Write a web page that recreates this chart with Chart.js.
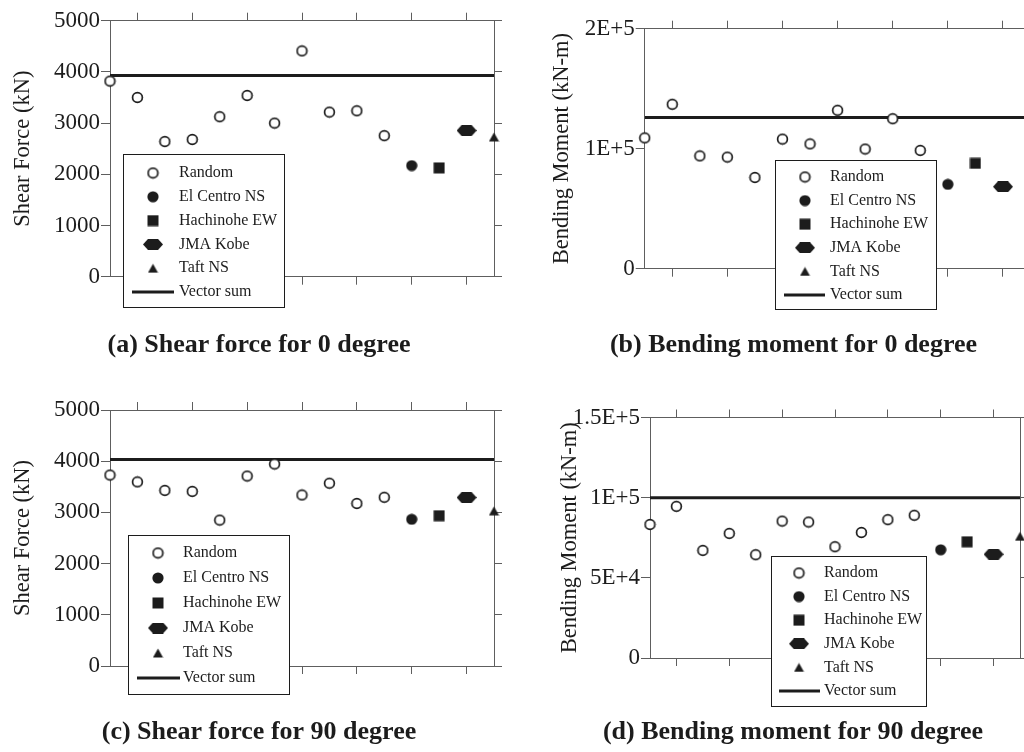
<!DOCTYPE html>
<html>
<head>
<meta charset="utf-8">
<title>Shear force and bending moment</title>
<script src="https://cdn.jsdelivr.net/npm/chart.js@4.4.1/dist/chart.umd.min.js"></script>
<style>
  html, body { margin: 0; padding: 0; background: #fff; }
  #page { position: relative; width: 1024px; height: 752px; overflow: hidden; }
  #page canvas { position: absolute; }
</style>
</head>
<body>
<div id="page">
  <canvas id="chartA"></canvas>
  <canvas id="chartB"></canvas>
  <canvas id="chartC"></canvas>
  <canvas id="chartD"></canvas>
</div>
<script>
// legend / series names
const seriesNames = ['Random', 'El Centro NS', 'Hachinohe EW', 'JMA Kobe', 'Taft NS', 'Vector sum'];
// case slots on the x axis that get a tick mark
const xTickSlots = [1, 3, 5, 7, 9, 11, 13];

// (a) shear force, 0 degree (kN)
const shear0Random = [3820, 3500, 2640, 2680, 3125, 3540, 3000, 4410, 3215, 3240, 2755];
const shear0Records = [2170, 2125, 2855, 2730];
const shear0Vector = 3930;

// (b) bending moment, 0 degree (kN-m)
const moment0Random = [109000, 137000, 94000, 93000, 76000, 108000, 104000, 132000, 99700, 125000, 98600];
const moment0Records = [70300, 87800, 68300, 80000];
const moment0Vector = 126000;

// (c) shear force, 90 degree (kN)
const shear90Random = [3730, 3595, 3430, 3410, 2850, 3710, 3945, 3340, 3570, 3175, 3295];
const shear90Records = [2865, 2935, 3290, 3030];
const shear90Vector = 4035;

// (d) bending moment, 90 degree (kN-m)
const moment90Random = [83300, 94600, 67100, 77700, 64400, 85400, 84800, 69400, 78300, 86300, 89000];
const moment90Records = [67500, 72500, 64700, 75900];
const moment90Vector = 100000;

const SERIF = '"Liberation Serif", "Times New Roman", serif';
const INK = '#1c1c1c';
const AXIS = '#5e5e5e';

function plainLabel(v) { return String(v); }
function sciLabel(v) {
  if (v === 0) return '0';
  const e = Math.floor(Math.log10(v));
  const m = +(v / Math.pow(10, e)).toFixed(2);
  return m + 'E+' + e;
}

// marker images, shared by the points and the legend
function marker(w, h, draw) {
  const c = document.createElement('canvas');
  c.width = w; c.height = h;
  const g = c.getContext('2d');
  g.fillStyle = INK; g.strokeStyle = INK;
  draw(g);
  return c;
}
const markers = [
  marker(13, 13, g => { g.beginPath(); g.arc(6.5, 6.5, 4.9, 0, Math.PI * 2); g.fillStyle = '#fff'; g.fill(); g.lineWidth = 1.7; g.stroke(); }),
  marker(12, 12, g => { g.beginPath(); g.arc(6, 6, 5.6, 0, Math.PI * 2); g.fill(); }),
  marker(12, 12, g => { g.fillRect(0.5, 0.5, 11, 11); }),
  marker(20, 11, g => {
    g.beginPath(); g.moveTo(0, 5.5); g.lineTo(5, 0); g.lineTo(15, 0); g.lineTo(20, 5.5);
    g.lineTo(15, 11); g.lineTo(5, 11); g.closePath(); g.fill();
  }),
  marker(11, 10, g => { g.beginPath(); g.moveTo(5.5, 0.5); g.lineTo(10.5, 9.5); g.lineTo(0.5, 9.5); g.closePath(); g.fill(); })
];

const panels = [
  { id: 'chartA', title: '(a) Shear force for 0 degree', yLabel: 'Shear Force (kN)',
    random: shear0Random, records: shear0Records, vector: shear0Vector,
    yMax: 5000, yStep: 1000, fmt: plainLabel,
    box: [0, 0, 518, 376], area: [110, 20.7, 494, 276.7], titleY: 345, yTitleX: 23,
    legend: { x: 123, y: 154, w: 161, h: 153, mark: 153, text: 179, row: 173, step: 23.8, line: [132, 174] } },
  { id: 'chartB', title: '(b) Bending moment for 0 degree', yLabel: 'Bending Moment (kN-m)',
    random: moment0Random, records: moment0Records, vector: moment0Vector,
    yMax: 200000, yStep: 100000, fmt: sciLabel,
    box: [530, 0, 527, 376], area: [644.7, 28.7, 1030.5, 268.7], titleY: 345, yTitleX: 562,
    legend: { x: 775, y: 160, w: 161, h: 149, mark: 805, text: 830, row: 177, step: 23.6, line: [784, 825] } },
  { id: 'chartC', title: '(c) Shear force for 90 degree', yLabel: 'Shear Force (kN)',
    random: shear90Random, records: shear90Records, vector: shear90Vector,
    yMax: 5000, yStep: 1000, fmt: plainLabel,
    box: [0, 390, 518, 362], area: [110, 410, 494, 666], titleY: 732, yTitleX: 23,
    legend: { x: 128, y: 535, w: 161, h: 159, mark: 158, text: 183, row: 553, step: 25, line: [137, 180] } },
  { id: 'chartD', title: '(d) Bending moment for 90 degree', yLabel: 'Bending Moment (kN-m)',
    random: moment90Random, records: moment90Records, vector: moment90Vector,
    yMax: 150000, yStep: 50000, fmt: sciLabel,
    box: [536, 390, 514, 362], area: [650, 417.5, 1020, 658], titleY: 732, yTitleX: 570,
    legend: { x: 771, y: 556, w: 155, h: 150, mark: 799, text: 824, row: 573, step: 23.6, line: [779, 820] } }
];

// white boxed legend drawn over the plot
const boxLegend = {
  id: 'boxLegend',
  afterDraw(chart, args, opts) {
    const L = opts.geom, ox = opts.ox, oy = opts.oy;
    const ctx = chart.ctx;
    ctx.save();
    ctx.fillStyle = '#fff';
    ctx.fillRect(L.x - ox, L.y - oy, L.w, L.h);
    ctx.strokeStyle = INK; ctx.lineWidth = 1;
    ctx.strokeRect(Math.round(L.x - ox) + 0.5, Math.round(L.y - oy) + 0.5, L.w, L.h);
    ctx.font = '16px ' + SERIF;
    ctx.textBaseline = 'middle';
    chart.data.datasets.forEach((ds, i) => {
      const y = L.row + i * L.step - oy;
      if (ds.showLine) {
        ctx.beginPath(); ctx.moveTo(L.line[0] - ox, y); ctx.lineTo(L.line[1] - ox, y);
        ctx.lineWidth = 3; ctx.strokeStyle = INK; ctx.stroke();
      } else {
        const m = ds.pointStyle;
        ctx.drawImage(m, L.mark - ox - m.width / 2, y - m.height / 2);
      }
      ctx.fillStyle = INK;
      ctx.fillText(ds.label, L.text - ox, y);
    });
    ctx.restore();
  }
};

function xAxis(position, size, lastSlot) {
  return {
    type: 'linear', position, min: 0, max: lastSlot,
    afterBuildTicks: axis => { axis.ticks = xTickSlots.map(v => ({ value: v })); },
    ticks: { display: false },
    grid: { drawOnChartArea: false, tickLength: 8, color: AXIS },
    border: { color: AXIS },
    afterFit: s => { s.height = size; }
  };
}

panels.forEach(p => {
  const [bl, bt, bw, bh] = p.box;
  const [al, at, ar, ab] = p.area;
  const canvas = document.getElementById(p.id);
  canvas.width = bw; canvas.height = bh;
  canvas.style.left = bl + 'px'; canvas.style.top = bt + 'px';

  const nRandom = p.random.length;
  const lastSlot = nRandom + p.records.length - 1;
  const datasets = [{
    label: seriesNames[0],
    data: p.random.map((v, i) => ({ x: i, y: v })),
    pointStyle: markers[0], pointRadius: 6, clip: false
  }];
  p.records.forEach((v, j) => {
    datasets.push({
      label: seriesNames[j + 1],
      data: [{ x: nRandom + j, y: v }],
      pointStyle: markers[j + 1], pointRadius: 6, clip: false
    });
  });
  datasets.push({
    label: seriesNames[5],
    data: [{ x: 0, y: p.vector }, { x: lastSlot, y: p.vector }],
    showLine: true, pointRadius: 0, borderWidth: 3, borderColor: INK
  });

  new Chart(canvas, {
    type: 'scatter',
    data: { datasets },
    options: {
      responsive: false,
      animation: false,
      events: [],
      layout: { padding: { left: 0, top: 0, right: 0, bottom: bt + bh - (p.titleY + 13) } },
      scales: {
        x: xAxis('bottom', p.titleY - 13 - ab, lastSlot),
        x2: xAxis('top', at - bt, lastSlot),
        y: {
          min: 0, max: p.yMax,
          ticks: { stepSize: p.yStep, padding: 1, color: INK, font: { family: SERIF, size: 23 },
                   callback: v => p.fmt(v) },
          grid: { drawOnChartArea: false, tickLength: 9, color: AXIS },
          border: { color: AXIS },
          title: { display: true, text: p.yLabel, color: INK, font: { family: SERIF, size: 22.5 },
                   padding: { top: p.yTitleX - bl - 13.5, bottom: 0 } },
          afterFit: s => { s.width = al - bl; }
        },
        y2: {
          position: 'right', min: 0, max: p.yMax,
          ticks: { stepSize: p.yStep, display: false },
          grid: { drawOnChartArea: false, tickLength: 8, color: AXIS },
          border: { color: AXIS },
          afterFit: s => { s.width = bl + bw - ar; }
        }
      },
      plugins: {
        legend: { display: false },
        tooltip: { enabled: false },
        title: { display: true, position: 'bottom', text: p.title, color: INK, padding: 0,
                 font: { family: SERIF, size: 26, weight: 'bold', lineHeight: 1 } },
        boxLegend: { geom: p.legend, ox: bl, oy: bt }
      }
    },
    plugins: [boxLegend]
  });
});
</script>
</body>
</html>
